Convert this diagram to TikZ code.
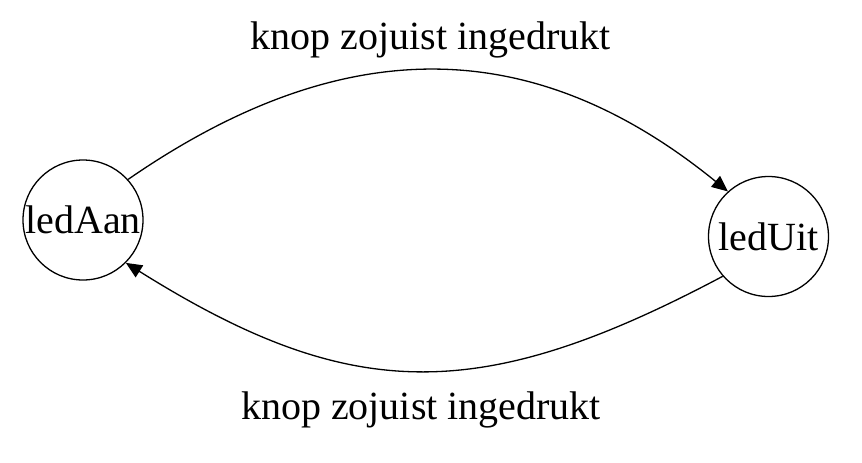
\documentclass[tikz,border=0pt]{standalone}
\usepackage{fontspec}
\setmainfont{Liberation Serif}
\usetikzlibrary{arrows.meta}

\begin{document}
\begin{tikzpicture}[
    x=0.5pt, y=-0.5pt,
    >={Triangle[length=8pt,width=7pt]},
    state/.style={
        circle,
        draw,
        line width=0.65pt,
        minimum size=60pt,
        inner sep=0pt,
        font=\fontsize{20}{24}\selectfont
    },
    edgelabel/.style={anchor=base, font=\fontsize{20}{24}\selectfont},
    arrow/.style={->, line width=0.65pt}
]
\useasboundingbox (0,0) rectangle (862,462);

% States
\node[state] (ledAan) at (83,220) {ledAan};
\node[state] (ledUit) at (768.5,236.5) {ledUit};

% Labels
\node[edgelabel] (lblTop) at (430.5,49) {knop zojuist ingedrukt};
\node[edgelabel] (lblBottom) at (421,419) {knop zojuist ingedrukt};

% Transitions
\draw[arrow] (ledAan.42) .. controls +(217,-150) and +(-193,-157) .. (ledUit.132);
\draw[arrow] (ledUit.221) .. controls +(-243,129) and +(225,141) .. (ledAan.315);

\end{tikzpicture}
\end{document}
